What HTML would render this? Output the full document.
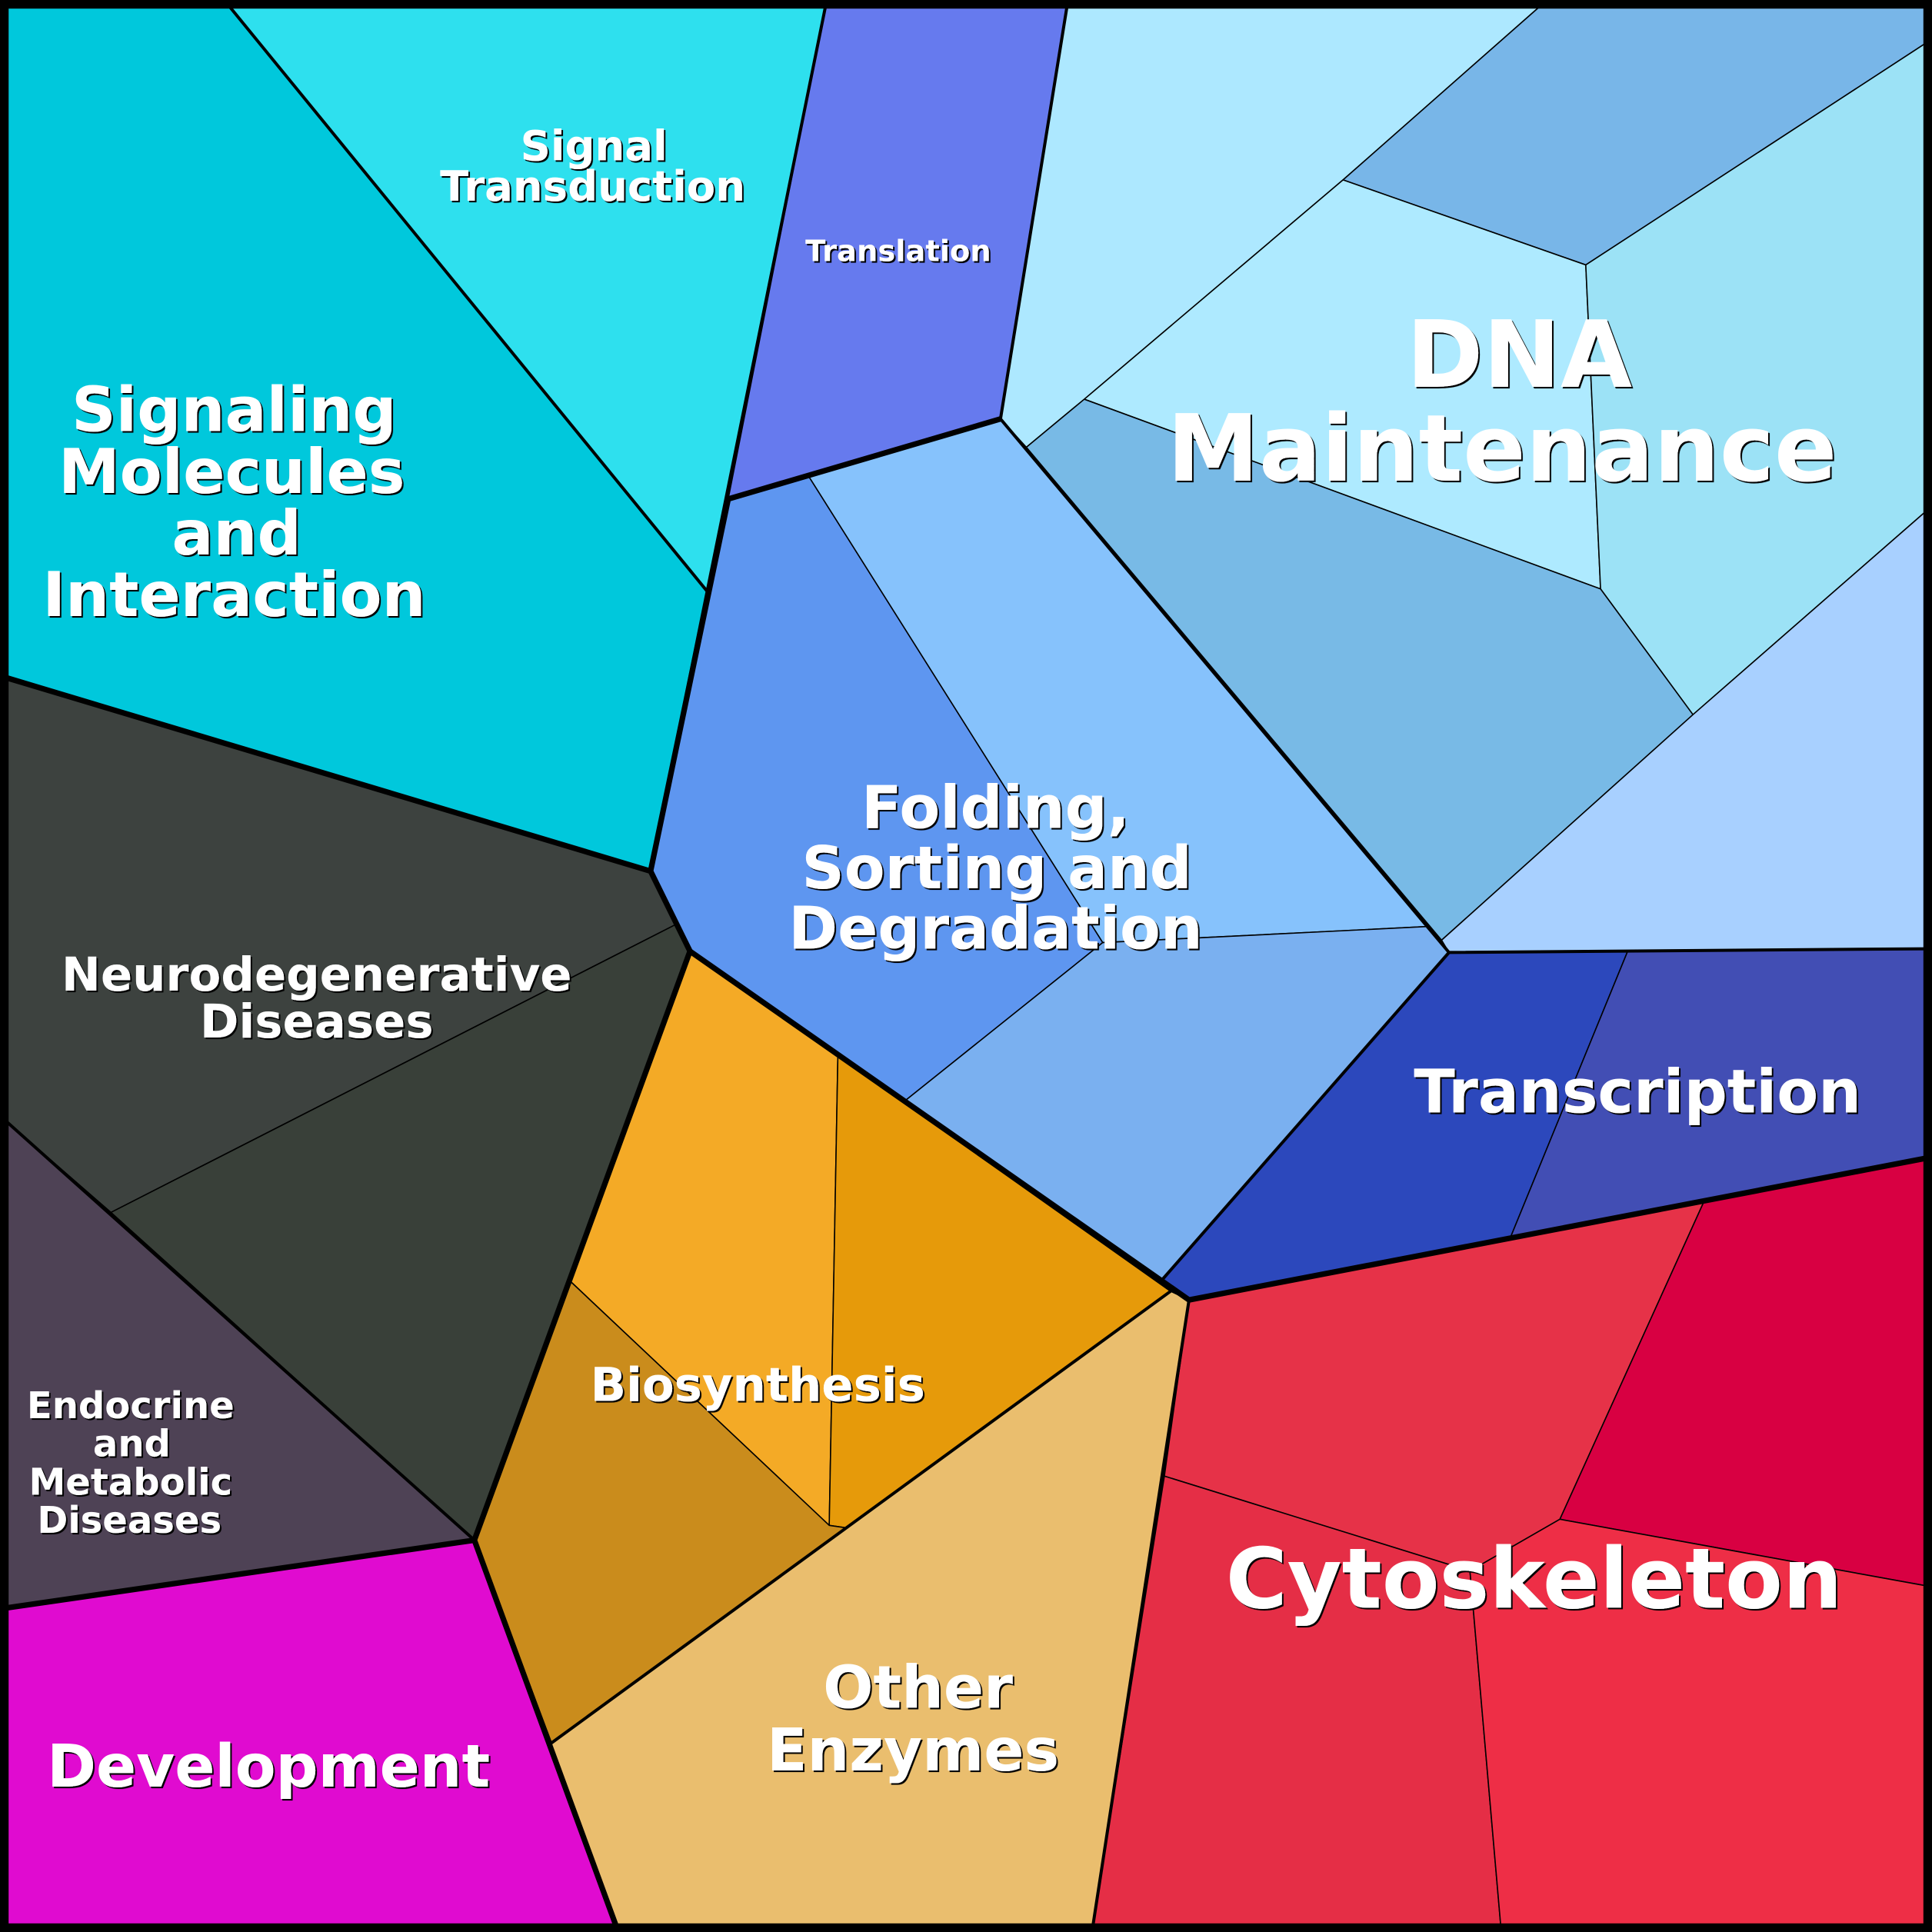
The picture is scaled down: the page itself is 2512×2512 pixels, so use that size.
<!DOCTYPE html>
<html><head><meta charset="utf-8"><style>html,body{margin:0;padding:0;background:#000}svg{display:block}text{font-family:"DejaVu Sans","Liberation Sans",sans-serif;font-weight:bold;fill:#fff;text-anchor:middle}</style></head><body>
<svg width="2512" height="2512" viewBox="0 0 1568 1568" xmlns="http://www.w3.org/2000/svg">
<defs><filter id="s" x="-5%" y="-5%" width="110%" height="110%"><feDropShadow dx="1.3" dy="1.3" stdDeviation="0" flood-color="#000"/></filter></defs>
<rect width="1568" height="1568" fill="#000"/>
<g stroke="#000" stroke-width="1" stroke-linejoin="round">
<polygon fill="#00C8DC" points="5,5 186,5 574,480 528,707 5,550"/>
<polygon fill="#2EE0EE" points="186,5 670,5 574,480"/>
<polygon fill="#667AEE" points="670,5 866,5 812,340 656,386 591,405"/>
<polygon fill="#ADE8FF" points="866,5 1250,5 1090,146 880,324 833,363 812,340"/>
<polygon fill="#78B6E8" points="1250,5 1563,5 1563,35 1287,215 1090,146"/>
<polygon fill="#AEEAFF" points="1090,146 1287,215 1299,478 880,324"/>
<polygon fill="#9CE2F6" points="1287,215 1563,35 1563,415 1374,580 1299,478"/>
<polygon fill="#78BAE6" points="880,324 1299,478 1374,580 1170,763 833,363"/>
<polygon fill="#A8D0FF" points="1374,580 1563,415 1563,770 1176,773 1170,763"/>
<polygon fill="#5E96F0" points="591,405 656,386 895,765 735,893 560,772 528,707"/>
<polygon fill="#86C2FC" points="656,386 812,340 1158,752 895,765"/>
<polygon fill="#7AB0F0" points="895,765 1158,752 1176,773 942,1040 735,893"/>
<polygon fill="#2C48BC" points="1176,773 1321,772 1226,1004 965,1055 942,1040"/>
<polygon fill="#424EB4" points="1321,772 1563,770 1563,940 1226,1004"/>
<polygon fill="#E63248" points="965,1055 1383,975 1266,1233 1193,1275 945,1198"/>
<polygon fill="#D80042" points="1383,975 1563,940 1563,1287 1266,1233"/>
<polygon fill="#E52E46" points="945,1198 1193,1275 1218,1563 887,1563"/>
<polygon fill="#EE2E46" points="1193,1275 1266,1233 1563,1287 1563,1563 1218,1563"/>
<polygon fill="#EABE6E" points="950,1048 965,1055 887,1563 500,1563 447,1415 687,1240"/>
<polygon fill="#F4AA26" points="560,772 680,857 673,1238 463,1040"/>
<polygon fill="#E69A0A" points="680,857 950,1048 687,1240 673,1238"/>
<polygon fill="#CA8C1C" points="463,1040 673,1238 687,1240 447,1415 385,1250"/>
<polygon fill="#3D423F" points="5,550 528,707 549,750 90,984 5,910"/>
<polygon fill="#394039" points="90,984 549,750 560,772 385,1250"/>
<polygon fill="#4E4255" points="5,910 90,984 385,1250 5,1305"/>
<polygon fill="#E00BD0" points="5,1305 385,1250 500,1563 5,1563"/>
</g>
<g fill="none" stroke="#000" stroke-width="2.5" stroke-linejoin="round">
<polyline points="186,5 574,480"/>
<polyline points="670,5 528,707"/>
<polyline points="866,5 812,340 1176,773"/>
<polyline points="1563,770 1176,773 942,1040"/>
<polyline points="5,910 385,1250"/>
<polyline points="385,1250 447,1415"/>
<polyline points="447,1415 950,1048"/>
<polyline points="965,1055 887,1563"/>
</g>
<g fill="none" stroke="#000" stroke-width="4.5" stroke-linejoin="round">
<polyline points="5,550 528,707 560,772 385,1250 500,1563"/>
<polyline points="528,707 591,405 812,340"/>
<polyline points="560,772 965,1055 1563,940"/>
<polyline points="5,1305 385,1250"/>
</g>
<rect x="3.5" y="3.5" width="1561" height="1561" fill="none" stroke="#000" stroke-width="7"/>
<g filter="url(#s)">
<text font-size="34" x="482" y="130">Signal</text>
<text font-size="34" x="481" y="163">Transduction</text>
<text font-size="24" x="729" y="212">Translation</text>
<text font-size="50" x="190" y="350">Signaling</text>
<text font-size="50" x="188" y="400">Molecules</text>
<text font-size="50" x="192" y="450">and</text>
<text font-size="50" x="190" y="500">Interaction</text>
<text font-size="75" x="1233" y="314">DNA</text>
<text font-size="75" x="1219" y="390">Maintenance</text>
<text font-size="48" x="808" y="672">Folding,</text>
<text font-size="48" x="809" y="721">Sorting and</text>
<text font-size="48" x="808" y="770">Degradation</text>
<text font-size="49" x="1329" y="903">Transcription</text>
<text font-size="38" x="257" y="804">Neurodegenerative</text>
<text font-size="38" x="257" y="842">Diseases</text>
<text font-size="38" x="615" y="1137">Biosynthesis</text>
<text font-size="30" x="106" y="1151">Endocrine</text>
<text font-size="30" x="107" y="1182">and</text>
<text font-size="30" x="106" y="1213">Metabolic</text>
<text font-size="30" x="105" y="1244">Diseases</text>
<text font-size="68" x="1245" y="1305">Cytoskeleton</text>
<text font-size="48" x="745" y="1386">Other</text>
<text font-size="48" x="741" y="1437">Enzymes</text>
<text font-size="48" x="218" y="1450">Development</text>
</g>
</svg>
</body></html>
